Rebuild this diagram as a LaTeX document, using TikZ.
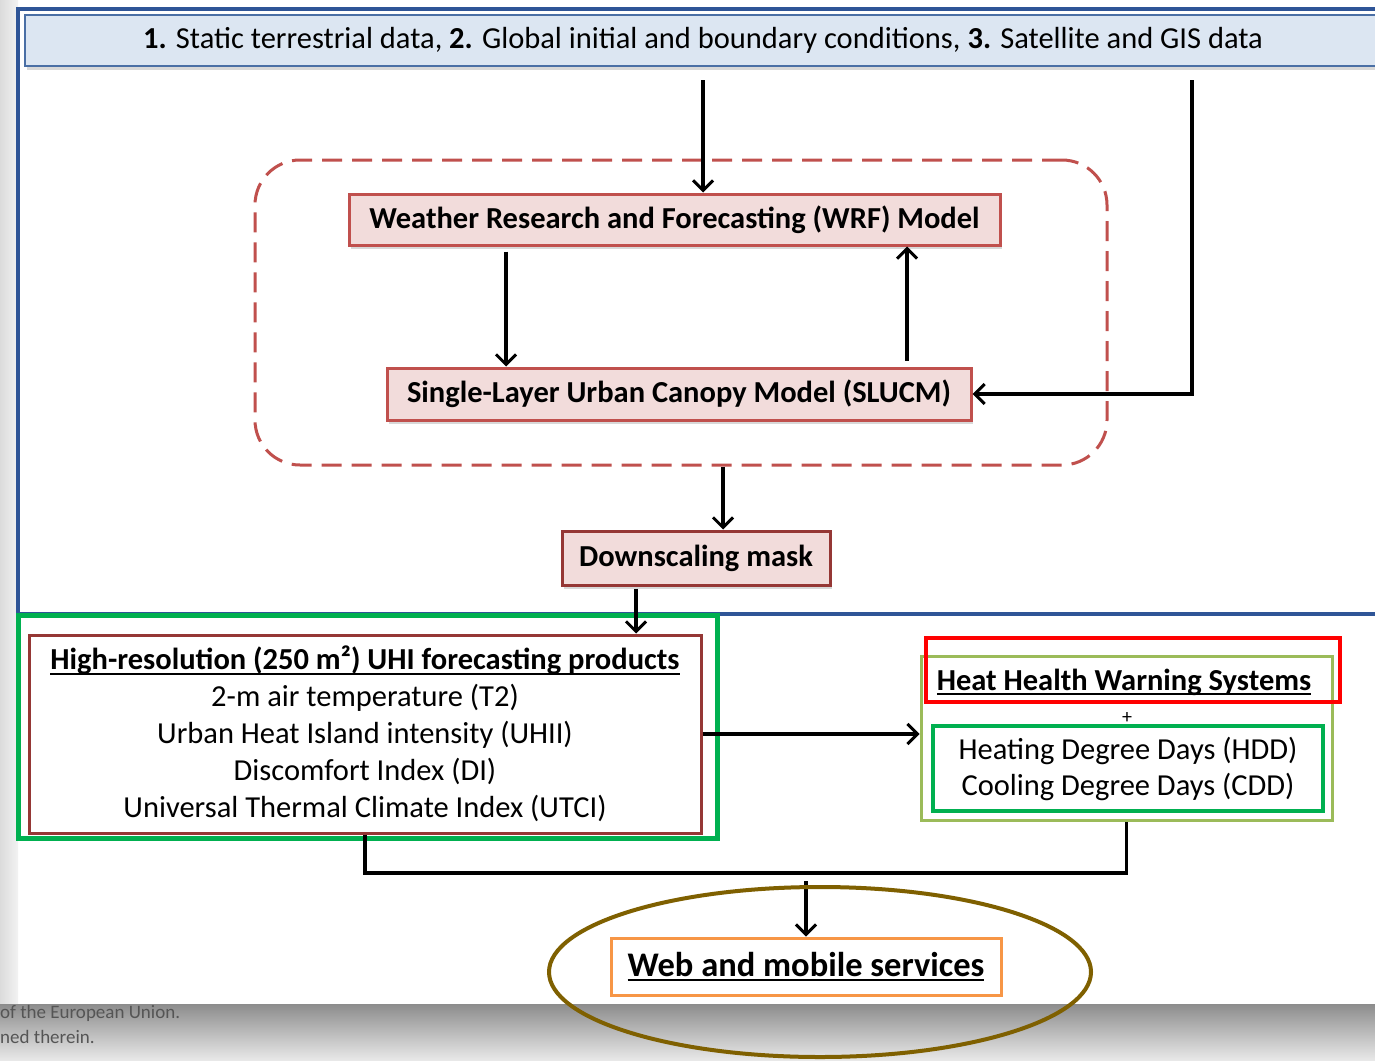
\documentclass[tikz,border=0pt]{standalone}
\usepackage{fontspec}
\setmainfont{Carlito}
\newcommand\ulin[1]{\setbox0\hbox{#1}\leavevmode\rlap{\rule[-5pt]{\wd0}{2.2pt}}\box0}
\usetikzlibrary{arrows.meta,shadows,shapes.geometric}
\definecolor{frameblue}{HTML}{2F5597}
\definecolor{bannerfill}{HTML}{DCE6F2}
\definecolor{bannerdraw}{HTML}{4A6FA5}
\definecolor{redbox}{HTML}{C0504D}
\definecolor{darkred}{HTML}{953735}
\definecolor{pinkfill}{HTML}{F2DCDB}
\definecolor{gbox}{HTML}{00B050}
\definecolor{lgreen}{HTML}{9BBB59}
\definecolor{orangebox}{HTML}{F79646}
\definecolor{olivec}{HTML}{7F6000}
\definecolor{footgray}{HTML}{555555}
\begin{document}
\begin{tikzpicture}[x=1pt,y=-1pt,
  arr/.style={line width=3.5pt,-{Straight Barb[length=10pt,width=20pt,line width=3pt]}},
  conn/.style={line width=3.5pt,line join=miter},
  shad/.style={drop shadow={shadow xshift=2pt,shadow yshift=-4pt,opacity=0.3}},
  model/.style={draw=redbox,fill=pinkfill,line width=3pt,inner sep=0pt,shad,
    font=\fontsize{30.5}{34}\selectfont\bfseries},
  plainbox/.style={inner sep=0pt,align=center},
  foot/.style={inner sep=0pt,text=footgray,font=\fontsize{19}{22}\selectfont}]
\useasboundingbox (0,0) rectangle (1375,1060);
\fill[white] (0,0) rectangle (1375,1060);
\shade[left color=black!14,right color=black!5] (0,0) rectangle (18,1005);
\shade[top color=black!45,bottom color=black!9] (0,1004) rectangle (1375,1060);
\node[foot,anchor=west] (f1) at (0,1013) {of the European Union.};
\node[foot,anchor=west] (f2) at (0,1037) {ned therein.};

% outer frame
\draw[frameblue,line width=4pt] (1395,614) -- (18,614) -- (18,9) -- (1395,9);

% banner
\node[plainbox,draw=bannerdraw,fill=bannerfill,line width=2.5pt,shad,
  minimum width=1356pt,minimum height=51pt,font=\fontsize{30.5}{34}\selectfont]
  (banner) at (703,40.5)
  {\textbf{1.} Static terrestrial data, \textbf{2.} Global initial and boundary conditions, \textbf{3.} Satellite and GIS data};

% coupled model dashed box
\node[draw=redbox,dash pattern=on 20pt off 10pt,line width=3pt,rounded corners=45pt,
  minimum width=852pt,minimum height=305pt,inner sep=0pt] (coupled) at (681,312.5) {};

\node[model,minimum width=651pt,minimum height=51pt] (wrf) at (674.5,219.5)
  {Weather Research and Forecasting (WRF) Model};
\node[model,minimum width=584pt,minimum height=52pt] (slucm) at (679,394)
  {Single-Layer Urban Canopy Model (SLUCM)};
\node[model,draw=darkred,minimum width=268pt,minimum height=54pt] (down) at (696,558)
  {Downscaling mask};

\coordinate (b1) at (703,80);
\coordinate (b2) at (1192,80);
\draw[arr] (b1) -- (b1 |- wrf.north);
\draw[arr] (b2) |- (slucm.east);
\draw[arr] ([xshift=-168.5pt,yshift=-5pt]wrf.south) -- ([xshift=-173pt]slucm.north);
\draw[arr] ([xshift=228pt,yshift=6pt]slucm.north) -- ([xshift=232.5pt]wrf.south);
\draw[arr] ([xshift=42pt]coupled.south) -- ([xshift=27pt]down.north);

% products
\node[draw=gbox,line width=5pt,minimum width=699pt,minimum height=223pt,inner sep=0pt]
  (greenL) at (367.5,726.5) {};
\node[plainbox,draw=darkred,fill=white,line width=3pt,minimum width=672pt,minimum height=198pt,
  font=\fontsize{30.5}{37}\selectfont] (hires) at (365,734)
  {\textbf{\ulin{High-resolution (250 m²) UHI forecasting products}}\\
   2-m air temperature (T2)\\
   Urban Heat Island intensity (UHII)\\
   Discomfort Index (DI)\\
   Universal Thermal Climate Index (UTCI)};
\draw[arr] ([xshift=-60pt,yshift=-2pt]down.south) -- ([xshift=271pt]hires.north);

% warning systems
\node[draw=lgreen,line width=3pt,minimum width=411pt,minimum height=164pt,inner sep=0pt]
  (hhws) at (1126.5,738) {};
\node[draw=red,line width=4pt,minimum width=414pt,minimum height=64pt,inner sep=0pt]
  (redb) at (1133,670) {};
\node[plainbox,font=\fontsize{30.5}{34}\selectfont\bfseries] (hhwt) at (1124,682)
  {\ulin{Heat Health Warning Systems}};
\node[plainbox,font=\fontsize{20}{22}\selectfont] (plus) at (1127,718) {+};
\node[plainbox,draw=gbox,line width=4pt,minimum width=390pt,minimum height=85pt,
  font=\fontsize{30.5}{36}\selectfont] (dd) at (1128,768.5)
  {Heating Degree Days (HDD)\\Cooling Degree Days (CDD)};

\draw[arr] (hires.east) -- (hires.east -| hhws.west);

% web services
\node[plainbox,draw=orangebox,fill=white,line width=3pt,minimum width=390pt,minimum height=57pt,
  font=\fontsize{34.5}{38}\selectfont\bfseries] (web) at (806,966.5)
  {\ulin{Web and mobile services}};
\coordinate (j) at (806,873);
\draw[conn] (hires.south) |- (j) -| (hhws.south);
\draw[arr] ([yshift=-8pt]j) -- (web.north);

\node[draw=olivec,line width=4pt,ellipse,minimum width=542pt,minimum height=170pt,inner sep=0pt]
  (ell) at (820,972) {};
\end{tikzpicture}
\end{document}
